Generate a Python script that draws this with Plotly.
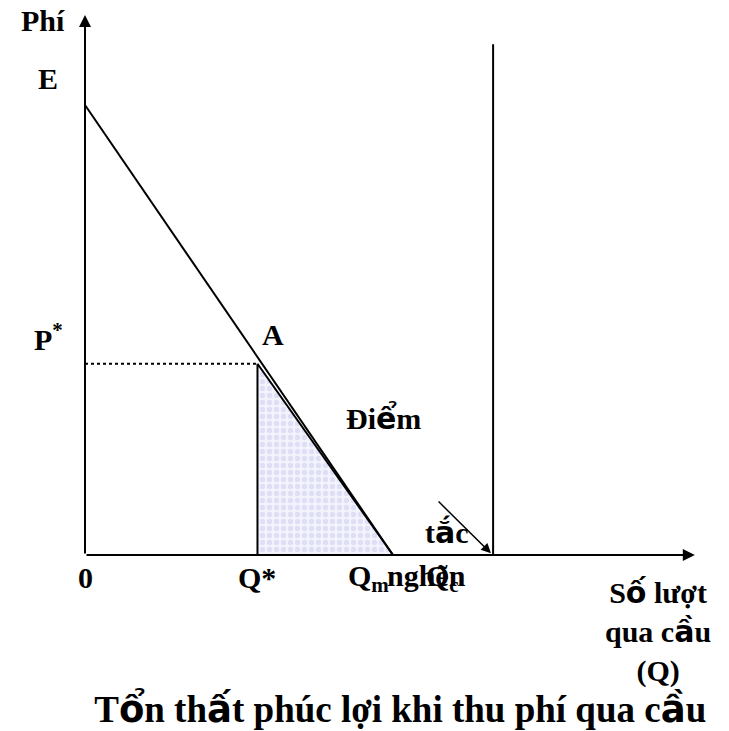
import plotly.graph_objects as go

# --- model values (quantity Q on x, price/fee on y) ---
demand_q = [0, 10]          # demand line: from E on the price axis to Qm
demand_p = [10, 0]
q_star = 5.6                # quantity with the toll
p_star = 4.25               # toll level P*
q_m = 10                    # quantity with no toll
q_c = 13.25                 # bridge capacity (congestion point)
capacity_top = 11.35
axis_q_max = 19.8
axis_p_max = 12.0
congest_arrow_q = [11.43, 13.18]
congest_arrow_p = [1.22, 0.04]

tick_q = [0, q_star]
tick_q_text = ["0", "Q*"]
tick_p = [10, p_star]
tick_p_text = ["E", "P<sup>*</sup>"]

FONT = "Liberation Serif"
SANS = "DejaVu Sans"
W, H = 729, 731
PX_Q, PX_P = 30.8, 45.0     # pixels per unit
ORIGIN_X, ORIGIN_Y = 85, 555

# letters with stacked diacritics are set in a sans face
STACKED = set("ổấầểắốễ")


def rich(s):
    out = []
    for ch in s:
        if ch in STACKED:
            out.append(f'<span style="font-family:{SANS}">{ch}</span>')
        else:
            out.append(ch)
    return "".join(out)


fig = go.Figure()

# deadweight-loss triangle
fig.add_trace(go.Scatter(
    x=[q_star, q_star, q_m, q_star], y=[p_star, 0, 0, p_star],
    mode="lines", fill="toself",
    line=dict(color="black", width=2),
    fillcolor="#f1f1fb",
    fillpattern=dict(shape=".", fgcolor="#c9c9ef", bgcolor="#f3f3fc",
                     size=7, solidity=0.45),
    hoverinfo="skip", showlegend=False))

# demand curve
fig.add_trace(go.Scatter(x=demand_q, y=demand_p, mode="lines",
                         line=dict(color="black", width=2),
                         hoverinfo="skip", showlegend=False))

# dotted toll level
fig.add_trace(go.Scatter(x=[0, q_star], y=[p_star, p_star], mode="lines",
                         line=dict(color="black", width=2, dash="dot"),
                         hoverinfo="skip", showlegend=False))

# capacity line
fig.add_trace(go.Scatter(x=[q_c, q_c], y=[0, capacity_top], mode="lines",
                         line=dict(color="black", width=2),
                         hoverinfo="skip", showlegend=False))

ann = []
# axes with arrow heads
ann.append(dict(x=axis_q_max, y=0, ax=0, ay=0, xref="x", yref="y",
                axref="x", ayref="y", showarrow=True, arrowhead=2,
                arrowsize=1.2, arrowwidth=2, arrowcolor="black", text=""))
ann.append(dict(x=0, y=axis_p_max, ax=0, ay=0, xref="x", yref="y",
                axref="x", ayref="y", showarrow=True, arrowhead=2,
                arrowsize=1.2, arrowwidth=2, arrowcolor="black", text=""))
# arrow pointing to the congestion point
ann.append(dict(x=congest_arrow_q[1], y=congest_arrow_p[1],
                ax=congest_arrow_q[0], ay=congest_arrow_p[0],
                xref="x", yref="y", axref="x", ayref="y", showarrow=True,
                arrowhead=2, arrowsize=1.3, arrowwidth=1.5,
                arrowcolor="black", text=""))


def label(x, y, t, size=30, xa="center", ya="middle"):
    ann.append(dict(x=x, y=y, xref="x", yref="y",
                    text="<b>" + rich(t) + "</b>", showarrow=False,
                    xanchor=xa, yanchor=ya,
                    font=dict(family=FONT, size=size, color="black")))


tick_y = -0.5
for q, t in zip(tick_q, tick_q_text):
    label(q, tick_y, t)
for p, t in zip(tick_p, tick_p_text):
    label(-1.2, p + 0.6, t)

label(q_m - 0.08, tick_y, "Q<sub>m</sub>", xa="right")
label(q_c - 1.05, tick_y, "Q<sub>c</sub>", xa="right")
label(-1.35, axis_p_max - 0.12, "Phí")
label(q_star + 0.5, p_star + 0.65, "A")
label(9.7, 3.04, "Điểm")
label(11.75, 0.5, "tắc")
label(11.1, -0.45, "nghẽn")
label(18.6, -1.69, "Số lượt<br>qua cầu<br>(Q)")

fig.update_layout(
    annotations=ann,
    width=W, height=H,
    margin=dict(l=0, r=0, t=0, b=0),
    paper_bgcolor="white", plot_bgcolor="white",
    xaxis=dict(visible=False, range=[-ORIGIN_X / PX_Q, (W - ORIGIN_X) / PX_Q]),
    yaxis=dict(visible=False, range=[-(H - ORIGIN_Y) / PX_P, ORIGIN_Y / PX_P]),
    title=dict(text="<b>" + rich("Tổn thất phúc lợi khi thu phí qua cầu") + "</b>",
               x=0.549, xanchor="center", y=0.03, yanchor="middle",
               font=dict(family=FONT, size=37, color="black")),
)

fig.write_html("out.html")
